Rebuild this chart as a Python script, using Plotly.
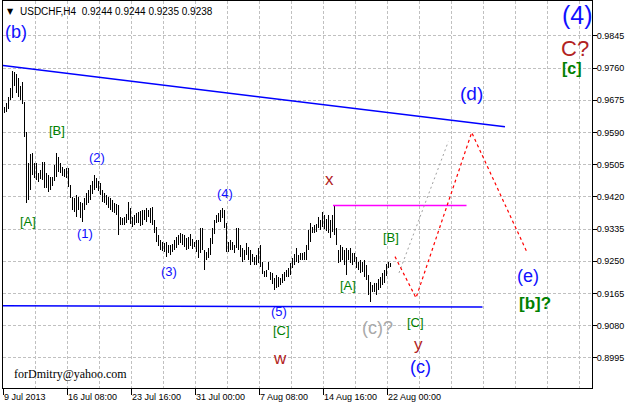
import plotly.graph_objects as go

# ---------------- data ----------------
symbol_header = "USDCHF,H4  0.9244 0.9244 0.9235 0.9238"
date_labels = ["9 Jul 2013", "16 Jul 08:00", "23 Jul 16:00", "31 Jul 00:00",
               "7 Aug 08:00", "14 Aug 16:00", "22 Aug 00:00"]
price_ticks = [0.8995, 0.9080, 0.9165, 0.9250, 0.9335, 0.9420, 0.9505,
               0.9590, 0.9675, 0.9760, 0.9845]

highs = [0.9657, 0.9668, 0.9684, 0.9708, 0.9753, 0.9750, 0.9745, 0.9734, 0.9713, 0.9724,
         0.9671, 0.9592, 0.9509, 0.9533, 0.9535, 0.9509, 0.9509, 0.9483, 0.9491, 0.9512,
         0.9512, 0.9483, 0.9478, 0.9472, 0.9472, 0.9504, 0.9535, 0.9525, 0.9509, 0.9499,
         0.9493, 0.9496, 0.9496, 0.9451, 0.9420, 0.9417, 0.9425, 0.9420, 0.9406, 0.9404,
         0.9417, 0.9430, 0.9438, 0.9451, 0.9462, 0.9478, 0.9470, 0.9462, 0.9457, 0.9438,
         0.9430, 0.9425, 0.9420, 0.9417, 0.9412, 0.9404, 0.9401, 0.9398, 0.9367, 0.9364,
         0.9367, 0.9375, 0.9406, 0.9390, 0.9367, 0.9372, 0.9377, 0.9380, 0.9382, 0.9385,
         0.9385, 0.9390, 0.9385, 0.9390, 0.9393, 0.9359, 0.9340, 0.9319, 0.9306, 0.9301,
         0.9298, 0.9301, 0.9293, 0.9293, 0.9295, 0.9306, 0.9314, 0.9319, 0.9325, 0.9322,
         0.9319, 0.9311, 0.9314, 0.9322, 0.9309, 0.9301, 0.9306, 0.9306, 0.9338, 0.9338,
         0.9280, 0.9274, 0.9285, 0.9311, 0.9338, 0.9359, 0.9372, 0.9377, 0.9385, 0.9390,
         0.9385, 0.9351, 0.9301, 0.9306, 0.9301, 0.9293, 0.9338, 0.9338, 0.9293, 0.9285,
         0.9280, 0.9298, 0.9288, 0.9280, 0.9269, 0.9261, 0.9266, 0.9285, 0.9293, 0.9248,
         0.9224, 0.9227, 0.9248, 0.9222, 0.9219, 0.9206, 0.9214, 0.9208, 0.9206, 0.9216,
         0.9222, 0.9227, 0.9232, 0.9245, 0.9258, 0.9269, 0.9285, 0.9266, 0.9272, 0.9272,
         0.9274, 0.9293, 0.9332, 0.9351, 0.9340, 0.9346, 0.9348, 0.9367, 0.9359, 0.9380,
         0.9372, 0.9361, 0.9372, 0.9359, 0.9372, 0.9397, 0.9338, 0.9280, 0.9293, 0.9288,
         0.9280, 0.9285, 0.9280, 0.9285, 0.9272, 0.9272, 0.9261, 0.9248, 0.9253, 0.9248,
         0.9253, 0.9240, 0.9214, 0.9195, 0.9187, 0.9192, 0.9192, 0.9203, 0.9208, 0.9219,
         0.9227, 0.9243, 0.9248, 0.9244]

lows = [0.9642, 0.9644, 0.9652, 0.9676, 0.9681, 0.9713, 0.9695, 0.9684, 0.9676, 0.9665,
        0.9578, 0.9404, 0.9412, 0.9438, 0.9478, 0.9470, 0.9465, 0.9459, 0.9467, 0.9465,
        0.9443, 0.9443, 0.9433, 0.9438, 0.9449, 0.9462, 0.9472, 0.9486, 0.9483, 0.9475,
        0.9472, 0.9470, 0.9446, 0.9417, 0.9385, 0.9380, 0.9367, 0.9385, 0.9364, 0.9354,
        0.9385, 0.9398, 0.9404, 0.9412, 0.9428, 0.9438, 0.9443, 0.9435, 0.9425, 0.9406,
        0.9404, 0.9398, 0.9390, 0.9385, 0.9380, 0.9377, 0.9372, 0.9319, 0.9346, 0.9346,
        0.9346, 0.9351, 0.9359, 0.9348, 0.9340, 0.9346, 0.9351, 0.9351, 0.9343, 0.9346,
        0.9359, 0.9354, 0.9367, 0.9351, 0.9346, 0.9325, 0.9301, 0.9290, 0.9280, 0.9277,
        0.9274, 0.9261, 0.9272, 0.9266, 0.9274, 0.9280, 0.9285, 0.9293, 0.9298, 0.9293,
        0.9288, 0.9280, 0.9282, 0.9290, 0.9282, 0.9288, 0.9274, 0.9258, 0.9272, 0.9280,
        0.9227, 0.9253, 0.9258, 0.9266, 0.9295, 0.9322, 0.9351, 0.9354, 0.9354, 0.9364,
        0.9338, 0.9274, 0.9274, 0.9280, 0.9280, 0.9272, 0.9285, 0.9280, 0.9261, 0.9248,
        0.9253, 0.9266, 0.9253, 0.9240, 0.9248, 0.9240, 0.9240, 0.9245, 0.9235, 0.9216,
        0.9208, 0.9208, 0.9227, 0.9200, 0.9190, 0.9174, 0.9179, 0.9182, 0.9187, 0.9192,
        0.9198, 0.9208, 0.9208, 0.9214, 0.9232, 0.9240, 0.9248, 0.9245, 0.9253, 0.9253,
        0.9253, 0.9253, 0.9280, 0.9301, 0.9325, 0.9325, 0.9327, 0.9338, 0.9332, 0.9340,
        0.9335, 0.9330, 0.9325, 0.9311, 0.9327, 0.9319, 0.9293, 0.9245, 0.9248, 0.9253,
        0.9240, 0.9214, 0.9253, 0.9245, 0.9240, 0.9248, 0.9232, 0.9227, 0.9219, 0.9222,
        0.9208, 0.9200, 0.9161, 0.9142, 0.9169, 0.9169, 0.9161, 0.9174, 0.9179, 0.9187,
        0.9192, 0.9211, 0.9232, 0.9235]

# analysis drawings (bar index, price)
upper_trend_bars = [-0.75, 250.25]
upper_trend_prices = [0.9767, 0.9605]
lower_line_bars = [-0.75, 239.0]
lower_line_prices = [0.9132, 0.9129]
x_level_bars = [164.25, 231.0]
x_level_prices = [0.9397, 0.9397]
red_path_bars = [195.25, 205.75, 233.6, 261.4]
red_path_prices = [0.9262, 0.9153, 0.9590, 0.9272]
gray_path_bars = [197.25, 221.9]
gray_path_prices = [0.9219, 0.9566]

BLUE = "#1010FF"
RED = "#B22222"
GREEN = "#008000"
GRAY = "#A9A9A9"

# (text, bar, price, color, size, bold)
wave_labels = [
    ("(b)", 5.75, 0.9856, BLUE, 18, False),
    ("[B]", 26.25, 0.9594, GREEN, 13, False),
    ("[A]", 11.5, 0.9356, GREEN, 13, False),
    ("(2)", 46.0, 0.9523, BLUE, 13, False),
    ("(1)", 40.25, 0.9322, BLUE, 13, False),
    ("(3)", 82.0, 0.9224, BLUE, 13, False),
    ("(4)", 110.25, 0.9430, BLUE, 13, False),
    ("(5)", 137.25, 0.9118, BLUE, 13, False),
    ("[C]", 138.25, 0.9066, GREEN, 13, False),
    ("w", 137.75, 0.8994, RED, 17, False),
    ("x", 162.25, 0.9465, RED, 17, False),
    ("[A]", 171.5, 0.9187, GREEN, 13, False),
    ("[B]", 193.25, 0.9313, GREEN, 13, False),
    ("(c)?", 186.25, 0.9074, GRAY, 18, False),
    ("[C]", 205.25, 0.9089, GREEN, 13, False),
    ("y", 206.75, 0.9031, RED, 17, False),
    ("(c)", 207.75, 0.8971, BLUE, 18, False),
    ("(d)", 233.25, 0.9693, BLUE, 19, False),
    ("(e)", 261.75, 0.9211, BLUE, 18, False),
    ("[b]?", 265.25, 0.9137, GREEN, 17, True),
    ("(4)", 286.25, 0.9900, BLUE, 25, False),
    ("C?", 285.25, 0.9813, RED, 22, False),
    ("[c]", 283.75, 0.9760, GREEN, 16, True),
]

# ---------------- figure ----------------
bar_index = list(range(len(highs)))
bar_range = [h - l for h, l in zip(highs, lows)]

fig = go.Figure()
fig.add_trace(go.Bar(x=bar_index, y=bar_range, base=lows, width=0.5,
                     marker=dict(color="black", line=dict(width=0)),
                     hoverinfo="skip"))
fig.add_trace(go.Scatter(x=upper_trend_bars, y=upper_trend_prices, mode="lines",
                         line=dict(color="#0000FF", width=1.5)))
fig.add_trace(go.Scatter(x=lower_line_bars, y=lower_line_prices, mode="lines",
                         line=dict(color="#0000FF", width=1.5)))
fig.add_trace(go.Scatter(x=x_level_bars, y=x_level_prices, mode="lines",
                         line=dict(color="#FF00FF", width=1.5)))
fig.add_trace(go.Scatter(x=gray_path_bars, y=gray_path_prices, mode="lines",
                         line=dict(color="#A0A0A0", width=1, dash="2px,3px")))
fig.add_trace(go.Scatter(x=red_path_bars, y=red_path_prices, mode="lines",
                         line=dict(color="#FF0000", width=1.2, dash="3px,3px")))

annotations = []
for text, b, p, col, size, bold in wave_labels:
    annotations.append(dict(
        x=b, y=p, xref="x", yref="y", text=("<b>%s</b>" % text) if bold else text,
        showarrow=False, xanchor="center", yanchor="middle",
        font=dict(family="Liberation Sans, Arial", size=size, color=col)))

annotations.append(dict(x=0.013, y=0.974, xref="paper", yref="paper", text="▼",
                        showarrow=False, xanchor="center", yanchor="middle",
                        font=dict(family="DejaVu Sans", size=8, color="black")))
annotations.append(dict(x=0.0255, y=0.974, xref="paper", yref="paper", text=symbol_header,
                        showarrow=False, xanchor="left", yanchor="middle",
                        font=dict(family="Liberation Sans, Arial", size=10, color="black")))
annotations.append(dict(x=0.015, y=0.036, xref="paper", yref="paper",
                        text="forDmitry@yahoo.com", showarrow=False,
                        xanchor="left", yanchor="middle",
                        font=dict(family="Liberation Serif, Times New Roman", size=12,
                                  color="black")))

major_x = [32 * k - 0.75 for k in range(len(date_labels))]
minor_x = [16 * k - 0.75 for k in range(1, 19)]

fig.update_layout(
    width=628, height=407,
    margin=dict(l=3, r=36, t=1, b=19, autoexpand=False),
    paper_bgcolor="white", plot_bgcolor="white",
    showlegend=False, bargap=0,
    annotations=annotations,
    xaxis=dict(
        range=[-0.75, 293.75], tickmode="array", tickvals=major_x, ticktext=date_labels,
        ticks="outside", ticklen=6, tickcolor="black", tickwidth=1,
        ticklabelposition="outside right",
        tickfont=dict(family="Liberation Sans, Arial", size=9, color="black"),
        showgrid=True, gridcolor="#C0C0C0", griddash="3px,2px", gridwidth=1,
        minor=dict(tickvals=minor_x, showgrid=True, gridcolor="#C0C0C0",
                   griddash="3px,2px", ticks=""),
        showline=True, linecolor="black", linewidth=1, mirror=True,
        zeroline=False, fixedrange=True, automargin=False),
    yaxis=dict(
        range=[0.891493, 0.993746], side="right", tickmode="array",
        tickvals=price_ticks, ticktext=["%.4f" % v for v in price_ticks],
        ticks="outside", ticklen=4, tickcolor="black", ticklabelstandoff=-2,
        tickfont=dict(family="Liberation Sans, Arial", size=9, color="black"),
        showgrid=True, gridcolor="#C0C0C0", griddash="3px,2px", gridwidth=1,
        showline=True, linecolor="black", linewidth=1, mirror=True,
        zeroline=False, fixedrange=True, automargin=False),
)

fig.write_html("out.html", config={"displayModeBar": False, "staticPlot": True},
               post_script="document.body.style.margin='0px';"
               "document.body.style.overflow='hidden';")
